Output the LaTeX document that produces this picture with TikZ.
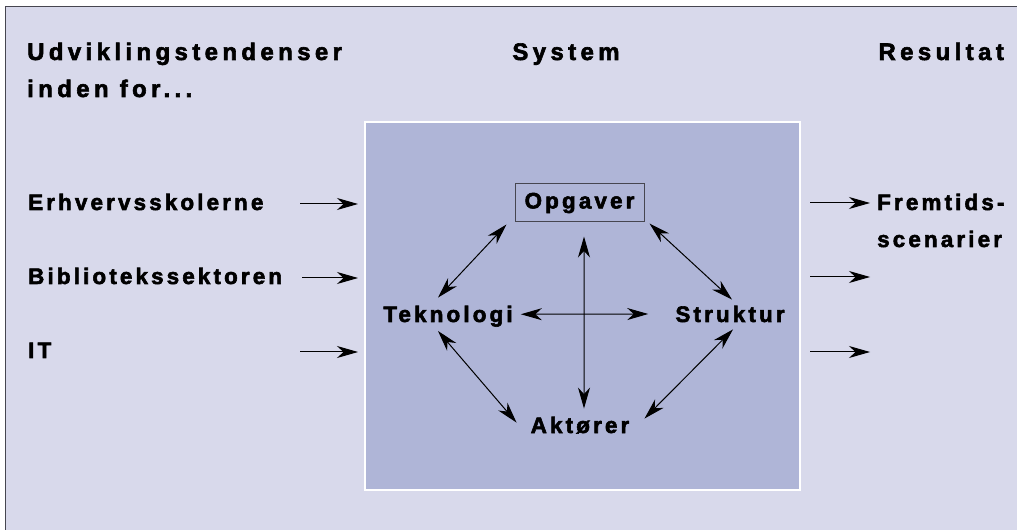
\documentclass[tikz,border=0pt]{standalone}
\usepackage{fontspec}
\setmainfont{Liberation Sans}
\newfontfamily\df{Liberation Sans}[UprightFont=* Bold, LetterSpace=14, FakeBold=2.5]
\newfontfamily\hf{Liberation Sans}[UprightFont=* Bold, LetterSpace=18.5, FakeBold=2.5]
\usetikzlibrary{arrows.meta,calc}
\definecolor{bglav}{RGB}{216,217,235}
\definecolor{boxlav}{RGB}{175,181,215}
\definecolor{framec}{RGB}{70,70,80}
\tikzset{
  lbl/.style={inner sep=0pt, font=\df\fontsize{22.5}{26}\selectfont},
  hlbl/.style={inner sep=0pt, font=\hf\fontsize{24}{28}\selectfont},
  inarr/.style={-{Stealth[length=21bp,width=12bp,inset=6.5bp]}, line width=1bp},
  dbl/.style={{Stealth[length=21bp,width=12bp,inset=6.5bp]}-{Stealth[length=21bp,width=12bp,inset=6.5bp]}, line width=1bp},
}
\begin{document}
\begin{tikzpicture}[x=1bp,y=-1bp]
\useasboundingbox (0,0) rectangle (1017,530);
\fill[white] (0,0) rectangle (1017,530);
\fill[bglav] (6,7) rectangle (1017,530);
\draw[framec, line width=1.5bp] (5.5,530) -- (5.5,6.5) -- (1017,6.5);
\draw[white, line width=1.5bp, fill=boxlav] (365,122) rectangle (800,490);

% headings
\node[hlbl, anchor=base west] (h1) at (27,60) {Udviklingstendenser};
\node[hlbl, anchor=base west] (h1b) at (27,97) {inden for...};
\node[hlbl, anchor=base] (h2) at (566,60) {System};
\node[hlbl, anchor=base east] (h3) at (1004,60) {Resultat};

% inputs
\node[lbl, anchor=base west] (erh) at (28,210) {Erhvervsskolerne};
\node[lbl, anchor=base west] (bib) at (28,284) {Bibliotekssektoren};
\node[lbl, anchor=base west] (it) at (28,358) {IT};
\coordinate (i1a) at (300,204); \coordinate (i1b) at (358,204);
\coordinate (i2a) at (302,278); \coordinate (i2b) at (358,278);
\coordinate (i3a) at (300,352); \coordinate (i3b) at (358,352);
\draw[inarr] (i1a) -- (i1b);
\draw[inarr] (i2a) -- (i2b);
\draw[inarr] (i3a) -- (i3b);

% outputs
\coordinate (o1a) at (810,203); \coordinate (o1b) at (870,203);
\coordinate (o2a) at (810,277); \coordinate (o2b) at (870,277);
\coordinate (o3a) at (810,352); \coordinate (o3b) at (870,352);
\draw[inarr] (o1a) -- (o1b);
\draw[inarr] (o2a) -- (o2b);
\draw[inarr] (o3a) -- (o3b);
\node[lbl, anchor=base west] (fr1) at (877,210) {Fremtids-};
\node[lbl, anchor=base west] (fr2) at (877,247) {scenarier};

% system
\node[lbl, draw=framec, line width=1bp, minimum width=129bp, minimum height=38bp] (op) at (579.5,203) {Opgaver};
\node[lbl, anchor=base] (tek) at (448,322) {Teknologi};
\node[lbl, anchor=base] (str) at (730,322) {Struktur};
\node[lbl, anchor=base] (akt) at (580,433) {Aktører};

\draw[dbl] ($(op.south west)+(-8,2)$) -- ($(tek.north)+(-10,-8)$);
\draw[dbl] ($(op.south east)+(5,1)$) -- ($(str.north)+(2,-6)$);
\draw[dbl] ($(tek.south)+(-10,4)$) -- ($(akt.north west)+(-14,6)$);
\draw[dbl] ($(str.south)+(3,7)$) -- ($(akt.north east)+(15,2)$);
\draw[dbl] ($(op.south)+(4.5,14)$) -- ($(akt.north)+(4,-8)$);
\draw[dbl] ($(tek.east)+(8,-2)$) -- ($(str.west)+(-27,0)$);
\end{tikzpicture}
\end{document}
